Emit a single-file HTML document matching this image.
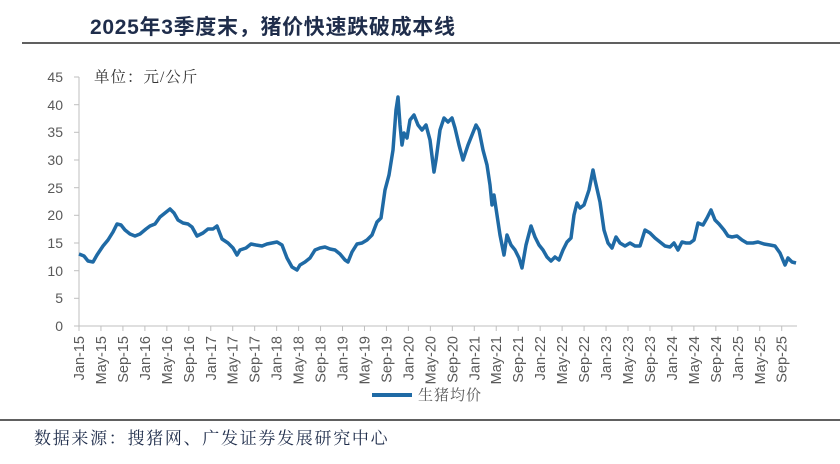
<!DOCTYPE html>
<html><head><meta charset="utf-8"><style>
body{margin:0;background:#fff;width:840px;height:459px;overflow:hidden;font-family:"Liberation Sans","Noto Sans CJK SC",sans-serif}
</style></head><body>
<svg width="840" height="459" viewBox="0 0 840 459" xmlns="http://www.w3.org/2000/svg" font-family="Liberation Sans, Noto Sans CJK SC, sans-serif">
<text x="90" y="34" font-size="21" font-weight="bold" fill="#1f2d4b" letter-spacing="0.7">2025年3季度末，猪价快速跌破成本线</text>
<line x1="22" y1="43" x2="840" y2="43" stroke="#000" stroke-width="1.2"/>
<text x="94" y="82" font-size="15.5" fill="#333" letter-spacing="1" font-family="Liberation Serif, Noto Serif CJK SC, serif">单位：元/公斤</text>
<g font-size="14" fill="#595959" text-anchor="end">
<text x="63" y="331">0</text><text x="63" y="303">5</text><text x="63" y="276">10</text><text x="63" y="248">15</text><text x="63" y="220">20</text><text x="63" y="193">25</text><text x="63" y="165">30</text><text x="63" y="137">35</text><text x="63" y="110">40</text><text x="63" y="82">45</text>
</g>
<g stroke="#bfbfbf" stroke-width="1">
<line x1="79" y1="77" x2="79" y2="326"/>
<line x1="74" y1="77" x2="79" y2="77"/><line x1="74" y1="104.7" x2="79" y2="104.7"/><line x1="74" y1="132.3" x2="79" y2="132.3"/><line x1="74" y1="160" x2="79" y2="160"/><line x1="74" y1="187.7" x2="79" y2="187.7"/><line x1="74" y1="215.3" x2="79" y2="215.3"/><line x1="74" y1="243" x2="79" y2="243"/><line x1="74" y1="270.7" x2="79" y2="270.7"/><line x1="74" y1="298.3" x2="79" y2="298.3"/>
<line x1="74" y1="326" x2="797" y2="326"/>
</g>
<g id="ticks" stroke="#bfbfbf"></g>
<g id="lbl" font-size="14.5" fill="#595959"></g>
<polyline fill="none" stroke="#1f6aa5" stroke-width="3.5" stroke-linejoin="round" points="79,254 84,256 88,261 93,262 97,255 103,246 108,240 113,232 117,224 121,225 125,230 130,234 135,236 140,234 146,229 150,226 155,224 160,217 165,213 170,209 174,213 178,220 183,223 188,224 192,227 197,236 203,233 208,229 213,229 217,226 222,239 228,243 233,248 237,255 240,250 246,248 251,244 256,245 262,246 267,244 272,243 277,242 282,245 287,258 292,267 297,270 300,265 305,262 310,258 315,250 320,248 325,247 330,249 335,250 340,254 345,260 348,262 352,252 357,244 362,243 367,240 372,235 377,222 381,218 385,190 389,175 393,150 396,110 398,97 400,125 402,145 404,133 407,138 410,120 414,115 418,125 422,130 426,125 430,140 434,172 436,160 440,130 444,118 448,122 452,118 455,128 459,145 463,160 468,145 472,135 476,125 479,130 483,150 487,165 490,185 492,205 494,195 497,215 500,235 504,255 507,235 511,245 515,250 519,258 522,268 526,245 531,226 535,237 539,245 543,250 547,257 551,261 555,257 559,260 563,250 567,242 571,238 574,215 577,203 580,208 584,205 589,190 593,170 595,180 600,202 604,230 608,243 612,248 616,237 620,243 625,246 630,243 635,246 640,246 645,230 650,233 655,238 660,242 665,246 670,247 674,243 678,250 682,242 686,243 690,243 694,240 698,223 703,225 707,218 711,210 715,220 719,224 724,230 728,236 732,237 737,236 742,240 747,243 753,243 758,242 764,244 770,245 775,246 780,253 785,265 788,258 792,262 796,263"/>
<line x1="372" y1="395" x2="412" y2="395" stroke="#1f6aa5" stroke-width="4"/>
<text x="418" y="400" font-size="15" fill="#595959" letter-spacing="1" font-family="Liberation Serif, Noto Serif CJK SC, serif">生猪均价</text>
<line x1="0" y1="420" x2="840" y2="420" stroke="#000" stroke-width="1.2"/>
<text x="34" y="444" font-size="17" fill="#1f2d4b" letter-spacing="1.7" font-family="Liberation Serif, Noto Serif CJK SC, serif">数据来源：搜猪网、广发证券发展研究中心</text>
</svg>
<script>
var m=["Jan","May","Sep"],t=document.getElementById("ticks"),l=document.getElementById("lbl"),ns="http://www.w3.org/2000/svg";
for(var i=0;i<33;i++){var x=79+i*21.96;var ln=document.createElementNS(ns,"line");ln.setAttribute("x1",x);ln.setAttribute("x2",x);ln.setAttribute("y1",326);ln.setAttribute("y2",331);t.appendChild(ln);
var tx=document.createElementNS(ns,"text");tx.setAttribute("transform","translate("+(x+5)+",336) rotate(-90)");tx.setAttribute("text-anchor","end");tx.textContent=m[i%3]+"-"+(15+Math.floor(i/3));l.appendChild(tx);}
</script>
</body></html>
